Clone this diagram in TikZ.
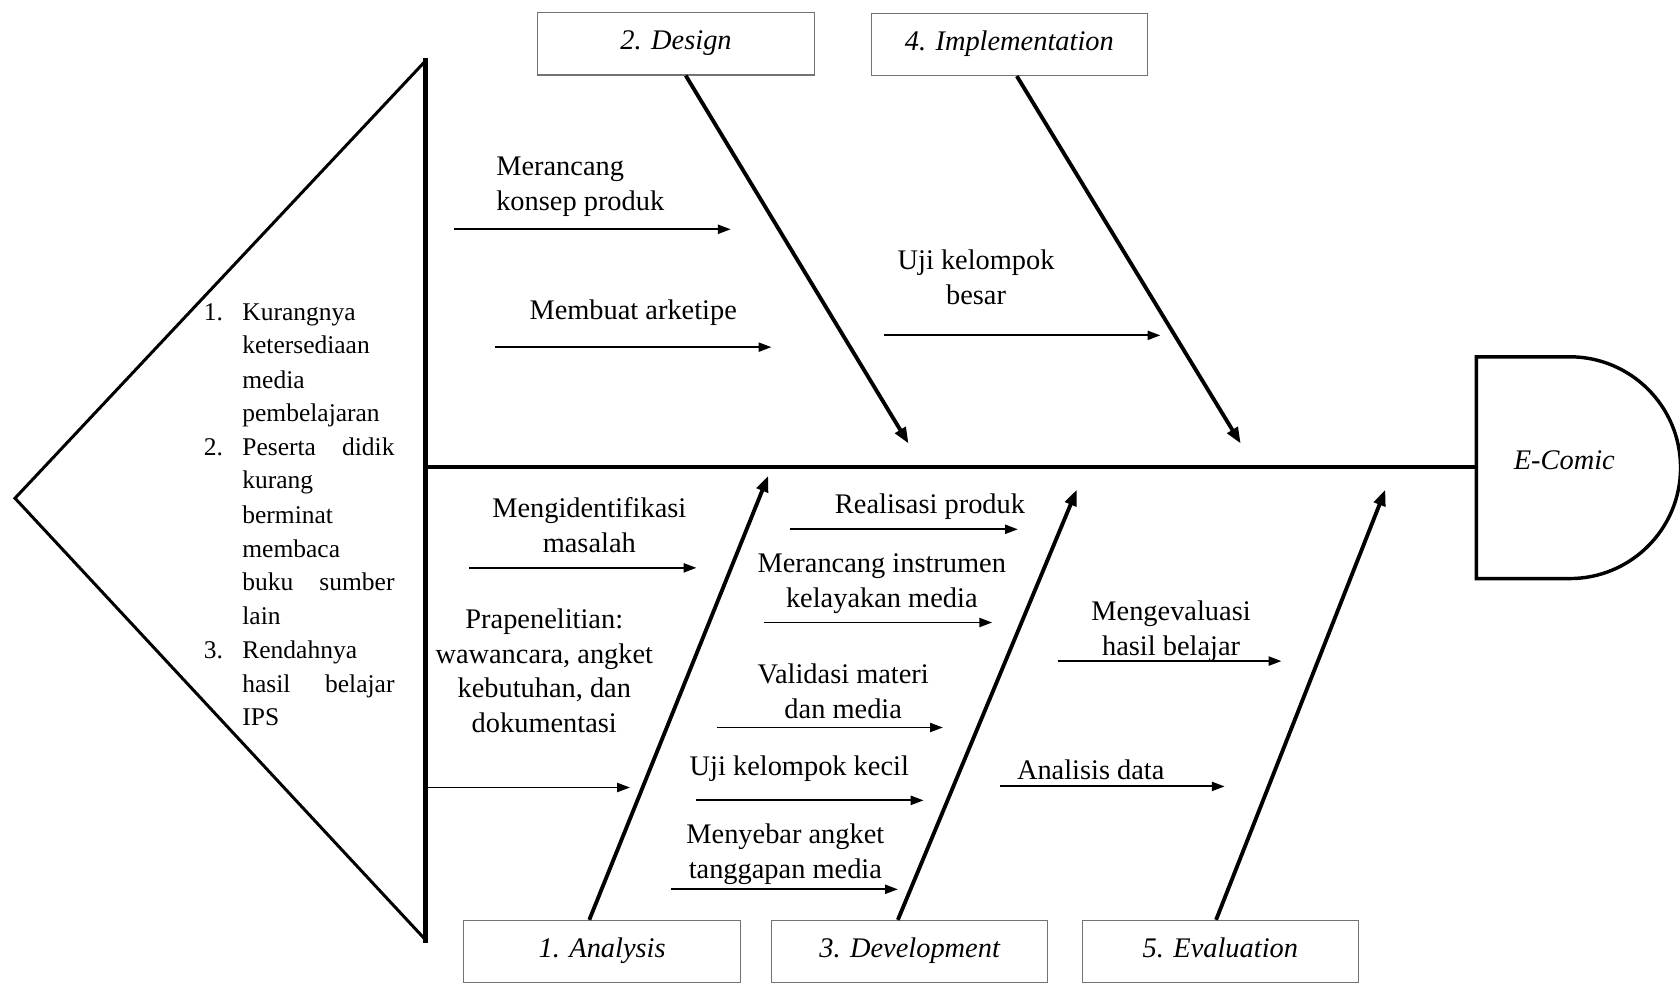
\documentclass[tikz,border=0pt]{standalone}
\usepackage{fontspec}
\setmainfont{Liberation Serif}
\usetikzlibrary{arrows.meta}
\begin{document}
\begin{tikzpicture}[x=1pt,y=-1pt,
  every node/.style={font=\fontsize{26.5}{32.5}\selectfont, inner sep=0pt},
  lbl/.style={align=center},
  stage/.style={draw=black!55, line width=1pt, minimum width=258pt, minimum height=58pt,
    text height=19pt, text depth=8pt,
    font=\fontsize{26.5}{32.5}\selectfont\itshape},
  bone/.style={line width=3.6pt, -{Triangle[length=15pt,width=11pt]}},
  twig/.style={line width=1.8pt, -{Triangle[length=12pt,width=8.5pt]}},
  prob/.style={font=\fontsize{23.8}{31.5}\selectfont, anchor=mid west},
]
\useasboundingbox (0,0) rectangle (1568,918);
\clip (0,0) rectangle (1568,918);

% head triangle
\coordinate (tA) at (397,57);
\coordinate (tB) at (14,465);
\coordinate (tC) at (397,877);
\draw[line width=2.8pt, line join=miter] (tA) -- (tB) -- (tC);
\draw[line width=4pt] (397,54) -- (397,880);

% problem list
\node[prob] (n1) at (190,297) {1.};
\node[prob] (p1) at (226,297) {Kurangnya};
\node[prob] (p2) at (226,328) {ketersediaan};
\node[prob] (p3) at (226,360) {media};
\node[prob] (p4) at (226,391) {pembelajaran};
\node[prob] (n2) at (190,423) {2.};
\node[prob] (p5) at (226,423) {\makebox[142pt][s]{Peserta didik}};
\node[prob] (p6) at (226,454) {kurang};
\node[prob] (p7) at (226,486) {berminat};
\node[prob] (p8) at (226,518) {membaca};
\node[prob] (p9) at (226,549) {\makebox[142pt][s]{buku sumber}};
\node[prob] (p10) at (226,581) {lain};
\node[prob] (n3) at (190,612) {3.};
\node[prob] (p11) at (226,612) {Rendahnya};
\node[prob] (p12) at (226,644) {\makebox[142pt][s]{hasil belajar}};
\node[prob] (p13) at (226,675) {IPS};

% E-Comic head
\draw[line width=3.2pt, line join=miter] (1378,333) -- (1465,333)
   arc[start angle=90, end angle=-90, radius=103.5pt] -- (1378,540) -- cycle;
\node[font=\fontsize{26.5}{32.5}\selectfont\itshape] (ecomic) at (1460,430) {E-Comic};

% spine
\coordinate (sL) at (397,436);
\coordinate (sR) at (1377,436);
\draw[line width=4pt] (sL) -- (sR);

% stage boxes
\node[stage] (design) at (631,41) {2. Design};
\node[stage] (impl) at (942,41.5) {4. Implementation};
\node[stage] (analysis) at (562,888) {1. Analysis};
\node[stage] (devel) at (849,888) {3. Development};
\node[stage] (evalu) at (1139,888) {5. Evaluation};

% bones
\coordinate (bD) at (848,414);
\coordinate (bI) at (1158,414);
\coordinate (bA) at (717,444);
\coordinate (bV) at (1005,457);
\coordinate (bE) at (1293,457);
\draw[bone] (design.south -| 640,0) -- (bD);
\draw[bone] (impl.south -| 949,0) -- (bI);
\draw[bone] (analysis.north -| 550,0) -- (bA);
\draw[bone] (devel.north -| 838,0) -- (bV);
\draw[bone] (evalu.north -| 1135,0) -- (bE);

% twigs: design
\node[align=left, anchor=west] (t1) at (463,174) {Merancang\\konsep produk};
\coordinate (a1s) at (424,214); \coordinate (a1e) at (682,214);
\draw[twig] (a1s) -- (a1e);
\node (t2) at (591,292) {Membuat arketipe};
\coordinate (a2s) at (462,324); \coordinate (a2e) at (720,324);
\draw[twig] (a2s) -- (a2e);

% implementation
\node[lbl] (t3) at (911,259) {Uji kelompok\\besar};
\coordinate (a3s) at (825,313); \coordinate (a3e) at (1083,313);
\draw[twig] (a3s) -- (a3e);

% analysis
\node[lbl] (t4) at (550,490) {Mengidentifikasi\\masalah};
\coordinate (a4s) at (438,530); \coordinate (a4e) at (650,530);
\draw[twig] (a4s) -- (a4e);
\node[lbl] (t5) at (508,626) {Prapenelitian:\\wawancara, angket\\kebutuhan, dan\\dokumentasi};
\coordinate (a5e) at (588,735);
\draw[twig] (sL |- a5e) -- (a5e);

% development
\node (t6) at (868,473) {Realisasi produk};
\coordinate (a6s) at (737,494); \coordinate (a6e) at (950,494);
\draw[twig] (a6s) -- (a6e);
\node[lbl] (t7) at (823,545) {Merancang instrumen\\kelayakan media};
\coordinate (a7s) at (713,581); \coordinate (a7e) at (926,581);
\draw[twig] (a7s) -- (a7e);
\node[lbl] (t8) at (787,645) {Validasi materi\\dan media};
\coordinate (a8s) at (669,679); \coordinate (a8e) at (880,679);
\draw[twig] (a8s) -- (a8e);
\node (t9) at (746,717) {Uji kelompok kecil};
\coordinate (a9s) at (650,747); \coordinate (a9e) at (862,747);
\draw[twig] (a9s) -- (a9e);
\node[lbl] (t10) at (733,797) {Menyebar angket\\tanggapan media};
\coordinate (a10s) at (626,830); \coordinate (a10e) at (838,830);
\draw[twig] (a10s) -- (a10e);

% evaluation
\node[lbl] (t11) at (1093,589) {Mengevaluasi\\hasil belajar};
\coordinate (a11s) at (987,617); \coordinate (a11e) at (1196,617);
\draw[twig] (a11s) -- (a11e);
\node (t12) at (1018,718) {Analisis data};
\coordinate (a12s) at (933,734); \coordinate (a12e) at (1143,734);
\draw[twig] (a12s) -- (a12e);
\end{tikzpicture}
\end{document}
